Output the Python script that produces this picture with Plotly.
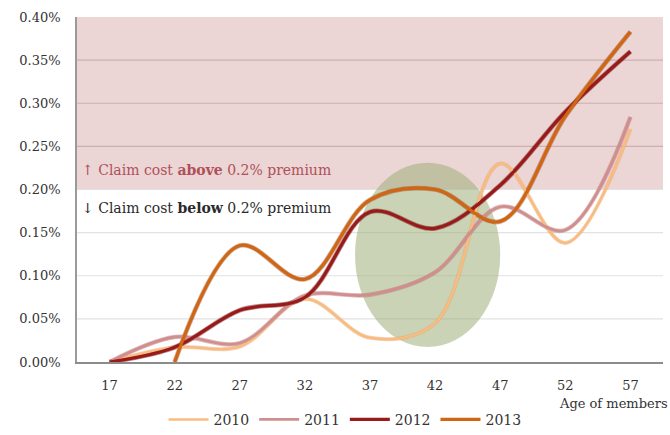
import plotly.graph_objects as go

# Age bands (x axis categories)
ages = ["17", "22", "27", "32", "37", "42", "47", "52", "57"]

# Claim cost as a share of the sum insured, by year
cost_2010 = [0.0000, 0.00017, 0.00018, 0.00073, 0.00028, 0.00045, 0.00230, 0.00138, 0.00270]
cost_2011 = [0.0000, 0.00029, 0.00022, 0.00077, 0.00078, 0.00104, 0.00180, 0.00153, 0.00284]
cost_2012 = [0.0000, 0.00017, 0.00060, 0.00075, 0.00174, 0.00155, 0.00205, 0.00290, 0.00360]
cost_2013 = [None, 0.0000, 0.00135, 0.00096, 0.00188, 0.00200, 0.00163, 0.00285, 0.00383]

years = ["2010", "2011", "2012", "2013"]
series = [cost_2010, cost_2011, cost_2012, cost_2013]
colors = ["#F8BC80", "#D08E8E", "#9A1A1A", "#D06514"]
shadow = ["#E8A060", "#B87070", "#6A0E0E", "#9A4510"]
widths = [2.5, 2.8, 3.2, 3.2]

premium = 0.002
y_max = 0.004

fig = go.Figure()

# soft darker edge under every curve
for vals, col, w in zip(series, shadow, widths):
    fig.add_trace(go.Scatter(
        x=ages, y=vals, mode="lines",
        line=dict(color=col, width=w + 1.6, shape="spline", smoothing=1.0),
        opacity=0.45, showlegend=False, hoverinfo="skip", connectgaps=False,
    ))

for name, vals, col, w in zip(years, series, colors, widths):
    fig.add_trace(go.Scatter(
        x=ages, y=vals, mode="lines", name=name,
        line=dict(color=col, width=w, shape="spline", smoothing=1.0),
        connectgaps=False,
    ))

# band above the premium level
fig.add_shape(type="rect", xref="paper", yref="y", x0=0, x1=1,
              y0=premium, y1=y_max, fillcolor="#EBD5D5",
              line=dict(width=0), layer="below")

# highlighted age region
fig.add_shape(type="circle", xref="x", yref="y", x0=3.77, x1=6.0,
              y0=0.000175, y1=0.00231, fillcolor="rgba(158,175,122,0.55)",
              line=dict(width=0), layer="between")

serif = "DejaVu Serif"

fig.add_annotation(
    xref="paper", yref="y", x=0.005, y=0.002226, xanchor="left", yanchor="middle",
    text="↑ Claim cost <b>above</b> 0.2% premium", showarrow=False,
    font=dict(family=serif, size=14, color="#B0505A"),
)
fig.add_annotation(
    xref="paper", yref="y", x=0.005, y=0.00178, xanchor="left", yanchor="middle",
    text="↓ Claim cost <b>below</b> 0.2% premium", showarrow=False,
    font=dict(family=serif, size=14, color="#2A2A2A"),
)
fig.add_annotation(
    xref="paper", yref="paper", x=1.012, y=-0.12, xanchor="right", yanchor="middle",
    text="Age of members", showarrow=False,
    font=dict(family=serif, size=13, color="#333333"),
)

# grid lines: muted rose over the band, light grey below it
grid_vals = [0.0005, 0.0010, 0.0015, 0.0020, 0.0025, 0.0030, 0.0035]
for g in grid_vals:
    fig.add_shape(type="line", xref="paper", yref="y", x0=0, x1=1, y0=g, y1=g,
                  line=dict(color="#CDB0B0" if g > premium else "#E2E2E2", width=1.2),
                  layer="between")

fig.update_layout(
    width=670, height=435,
    margin=dict(l=77, r=7, t=17, b=73, autoexpand=False),
    paper_bgcolor="white", plot_bgcolor="white",
    font=dict(family=serif, size=13, color="#333333"),
    showlegend=True,
    legend=dict(orientation="h", xref="container", yref="container",
                x=0.515, xanchor="center", y=0.035, yanchor="middle",
                font=dict(family=serif, size=14, color="#333333"),
                itemwidth=40, traceorder="normal", bgcolor="rgba(0,0,0,0)"),
    xaxis=dict(type="category", categoryorder="array", categoryarray=ages,
               range=[-0.5, 8.5], showgrid=False, zeroline=False,
               showline=True, linecolor="#8C8C8C", linewidth=2,
               ticks="", ticklabelstandoff=10, automargin=False,
               tickfont=dict(family=serif, size=13, color="#333333")),
    yaxis=dict(range=[0, y_max], tickformat=".2%", dtick=0.0005,
               showgrid=False, zeroline=False,
               showline=True, linecolor="#9A9A9A", linewidth=1.5,
               ticks="", ticklabelstandoff=12, automargin=False,
               tickfont=dict(family=serif, size=13, color="#333333")),
)

fig.write_html("out.html")
